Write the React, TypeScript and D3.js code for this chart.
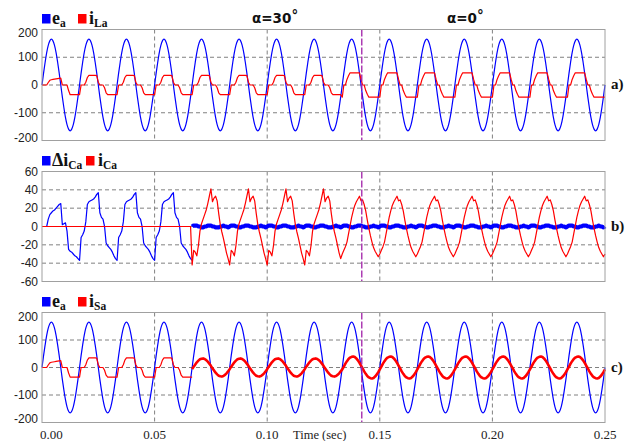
import React from 'react';
import * as d3 from 'd3';

const width = 629;
const height = 441;
const blue = '#0000ff';
const red = '#ff0000';
const gridGray = '#808080';
const frameGray = '#a0a0a0';
const purple = '#a020a8';
const serif = "'Times New Roman', 'Liberation Serif', 'DejaVu Serif', serif";
const sans = "Arial, 'Liberation Sans', sans-serif";

const period = 1 / 60; // 60 Hz mains
const tEnd = 0.25;
const tMarker = 0.142; // dashed marker, alpha 30 -> 0
const alphaChange = 8; // first cycle with alpha = 0
const filterOn = 4; // first cycle with the active filter on

const xTicks = [0, 0.05, 0.1, 0.15, 0.2, 0.25];
const xTickLabels = ['0.00', '0.05', '0.10', '0.15', '0.20', '0.25'];
const voltTicks = [200, 100, 0, -100, -200];
const voltGrid = [100, 0, -100];
const currTicks = [60, 40, 20, 0, -20, -40, -60];
const currGrid = [40, 20, 0, -20, -40];

// one mains period per array, a sample every 15 deg
const eaCycle = [0, 43, 82, 117, 143, 159, 165, 159, 143, 117, 82, 43, 0, -43, -82, -117, -143, -159, -165, -159, -143, -117, -82, -43];
const iLaFirst = [0, 0, 0, 0, 9, 17, 19, 20, 21, 22, 23, 24, 25, 0, 0, 0, 0, -20, -35, -35, -35, -35, -35, -35];
const iLa30 = [-35, 0, 0, 0, 10, 27, 35, 35, 35, 35, 35, 34, 10, 0, 0, 0, -10, -28, -35, -35, -35, -35, -35, -35];
const iLa0 = [-44, 0, 0, 20, 33, 44, 44, 44, 44, 44, 44, 44, 20, 0, 0, -20, -33, -44, -44, -44, -44, -44, -44, -44];
const iSa30 = [-6, 3, 11, 19, 25, 30, 32, 33, 31, 27, 21, 14, 6, -3, -11, -19, -25, -30, -32, -33, -31, -27, -21, -14];
const iSa0 = [-7, 3, 14, 23, 31, 36, 39, 40, 38, 33, 26, 17, 7, -3, -14, -23, -31, -36, -39, -40, -38, -33, -26, -17];
const iCa30 = [-42, -26, -28, -32, -21, -5, 3, 8, 13, 18, 25, 33, 41, 27, 31, 33, 28, 14, 2, -6, -13, -21, -29, -35];
const iCa0 = [-30, -26, -22, -17, -8, 1, 10, 17, 23, 27, 30, 33, 28, 29, 24, 17, 7, -2, -10, -17, -23, -27, -30, -33];
const iCaOff = [0, 0, 0, 0, 0, 0, 0, 0, 0, 0, 0, 0, 0, 0, 0, 0, 0, 0, 0, 0, 0, 0, 0, 0];
const dCaFirst = [0, 0, 0, 0, 8, 13, 15, 17, 18, 20, 22, 24, 25, 2, 3, 4, -5, -25, -27, -28, -30, -32, -33, -35];
const dCaCycle = [-37, -12, -9, -5, 5, 24, 27, 28, 29, 30, 32, 35, 37, 15, 10, 8, 0, -18, -21, -23, -25, -28, -32, -35];
const dCaSteady = [0, 1, 1, 1, 0, 0, -1, -1, 0, 0, 1, 1, 1, 0, 0, -1, -1, -1, 0, 0, 1, 0, 0, -1];

const cycles = d3.range(Math.round(tEnd / period));

type Pt = [number, number];

// lay the per-cycle samples out on the time axis
function build(list: number[][], first = 0): Pt[] {
  const pts: Pt[] = [];
  list.forEach((c, k) => c.forEach((v, i) => pts.push([(first + k + i / c.length) * period, v])));
  pts.push([(first + list.length) * period, list[list.length - 1][0]]);
  return pts;
}

const loadCycle = (k: number) => (k === 0 ? iLaFirst : k < alphaChange ? iLa30 : iLa0);

const ea = build(cycles.map(() => eaCycle));
const iLa = build(cycles.map(loadCycle));
const iSaBefore = build(cycles.filter(k => k < filterOn).map(loadCycle));
const iSaAfter = build(cycles.filter(k => k >= filterOn).map(k => (k < alphaChange ? iSa30 : iSa0)), filterOn);
const iCa = build(cycles.map(k => (k < filterOn ? iCaOff : k < alphaChange ? iCa30 : iCa0)));
const dCaBefore = build(cycles.filter(k => k < filterOn).map(k => (k === 0 ? dCaFirst : dCaCycle)));
const dCaAfter = build(cycles.filter(k => k >= filterOn).map(() => dCaSteady), filterOn);

const x = d3.scaleLinear().domain([0, tEnd]).range([42, 605]);

type Series = { data: Pt[]; color: string; w: number; curve?: d3.CurveFactory };

function Panel(props: {
  top: number; bottom: number; lim: number; ticks: number[]; grid: number[];
  inset: number; series: Series[]; tag: string;
}) {
  const { top, bottom, lim, ticks, grid, inset, series, tag } = props;
  const y = d3.scaleLinear().domain([-lim, lim]).range([bottom, top]);
  const [x0, x1] = x.range();
  const line = d3.line<Pt>().x(d => x(d[0])).y(d => y(d[1]));
  return (
    <g>
      {grid.map(v => (
        <line key={'h' + v} x1={x0} x2={x1} y1={y(v)} y2={y(v)} stroke={gridGray} strokeDasharray="4,3" />
      ))}
      {xTicks.slice(1, -1).map(t => (
        <line key={'v' + t} x1={x(t)} x2={x(t)} y1={top} y2={bottom} stroke={gridGray} strokeDasharray="4,3" />
      ))}
      {series.map((s, i) => (
        <path key={i} d={line.curve(s.curve || d3.curveLinear)(s.data) || ''} fill="none" stroke={s.color}
          strokeWidth={s.w} strokeLinejoin="round" />
      ))}
      <line x1={x(tMarker)} x2={x(tMarker)} y1={top} y2={bottom} stroke={purple} strokeWidth={1.3} strokeDasharray="7,2" />
      <rect x={x0} y={top} width={x1 - x0} height={bottom - top} fill="none" stroke={frameGray} />
      {ticks.map(v => (
        <text key={v} x={38} y={Math.min(Math.max(y(v), top + inset), bottom - inset)} textAnchor="end"
          dominantBaseline="central" fontFamily={sans} fontSize={12} fill="#222">
          {v}
        </text>
      ))}
      <text x={611} y={y(0) + 4} fontFamily={serif} fontWeight="bold" fontSize={15} fill="#111">
        {tag}
      </text>
    </g>
  );
}

function Legend(props: { top: number; items: { x: number; color: string; name: string; sub: string; tx: number }[] }) {
  const base = props.top - 5.5;
  return (
    <g fontFamily={serif} fontWeight="bold" fill="#111">
      {props.items.map(it => (
        <g key={it.name + it.sub + it.x}>
          <rect x={it.x} y={props.top - 15.5} width={8.5} height={9.5} fill={it.color} />
          <text x={it.tx} y={base} fontSize={18}>
            {it.name}
            <tspan dy={3} fontSize={11.5}>{it.sub}</tspan>
          </text>
        </g>
      ))}
    </g>
  );
}

export default function App() {
  const aTop = 29.5, aBot = 140.5;
  const bTop = 171.5, bBot = 281.5;
  const cTop = 312.5, cBot = 422.5;
  return (
    <svg width={width} height={height} style={{ position: 'absolute', left: 0, top: 0, background: '#fff' }}>
      <Panel top={aTop} bottom={aBot} lim={200} ticks={voltTicks} grid={voltGrid} inset={3} tag="a)"
        series={[
          { data: ea, color: blue, w: 1.2, curve: d3.curveMonotoneX },
          { data: iLa, color: red, w: 1.2 },
        ]} />
      <Panel top={bTop} bottom={bBot} lim={60} ticks={currTicks} grid={currGrid} inset={0} tag="b)"
        series={[
          { data: dCaBefore, color: blue, w: 1.2 },
          { data: dCaAfter, color: blue, w: 4.2, curve: d3.curveMonotoneX },
          { data: iCa, color: red, w: 1.2 },
        ]} />
      <Panel top={cTop} bottom={cBot} lim={200} ticks={voltTicks} grid={voltGrid} inset={4} tag="c)"
        series={[
          { data: ea, color: blue, w: 1.2, curve: d3.curveMonotoneX },
          { data: iSaBefore, color: red, w: 1.2 },
          { data: iSaAfter, color: red, w: 2.6 },
        ]} />

      <Legend top={aTop} items={[
        { x: 42, color: blue, name: 'e', sub: 'a', tx: 52 },
        { x: 78, color: red, name: 'i', sub: 'La', tx: 89 },
      ]} />
      <Legend top={bTop} items={[
        { x: 42, color: blue, name: 'Δi', sub: 'Ca', tx: 52 },
        { x: 86, color: red, name: 'i', sub: 'Ca', tx: 98 },
      ]} />
      <Legend top={cTop} items={[
        { x: 42, color: blue, name: 'e', sub: 'a', tx: 52 },
        { x: 78, color: red, name: 'i', sub: 'Sa', tx: 89 },
      ]} />

      <g fontFamily="'DejaVu Sans', sans-serif" fontWeight="bold" fontSize={13.5} fill="#111">
        <text x={252} y={23}>α=30<tspan dy={-3}>°</tspan></text>
        <text x={447} y={23}>α=0<tspan dy={-3}>°</tspan></text>
      </g>

      <g fontFamily={serif} fontSize={13} fill="#222">
        {xTicks.map((t, i) => (
          <text key={t} x={i === 0 ? 40 : x(t)} y={439} textAnchor={i === 0 ? 'start' : 'middle'}>
            {xTickLabels[i]}
          </text>
        ))}
        <text x={293} y={439} fontSize={12.5}>Time (sec)</text>
      </g>
    </svg>
  );
}
